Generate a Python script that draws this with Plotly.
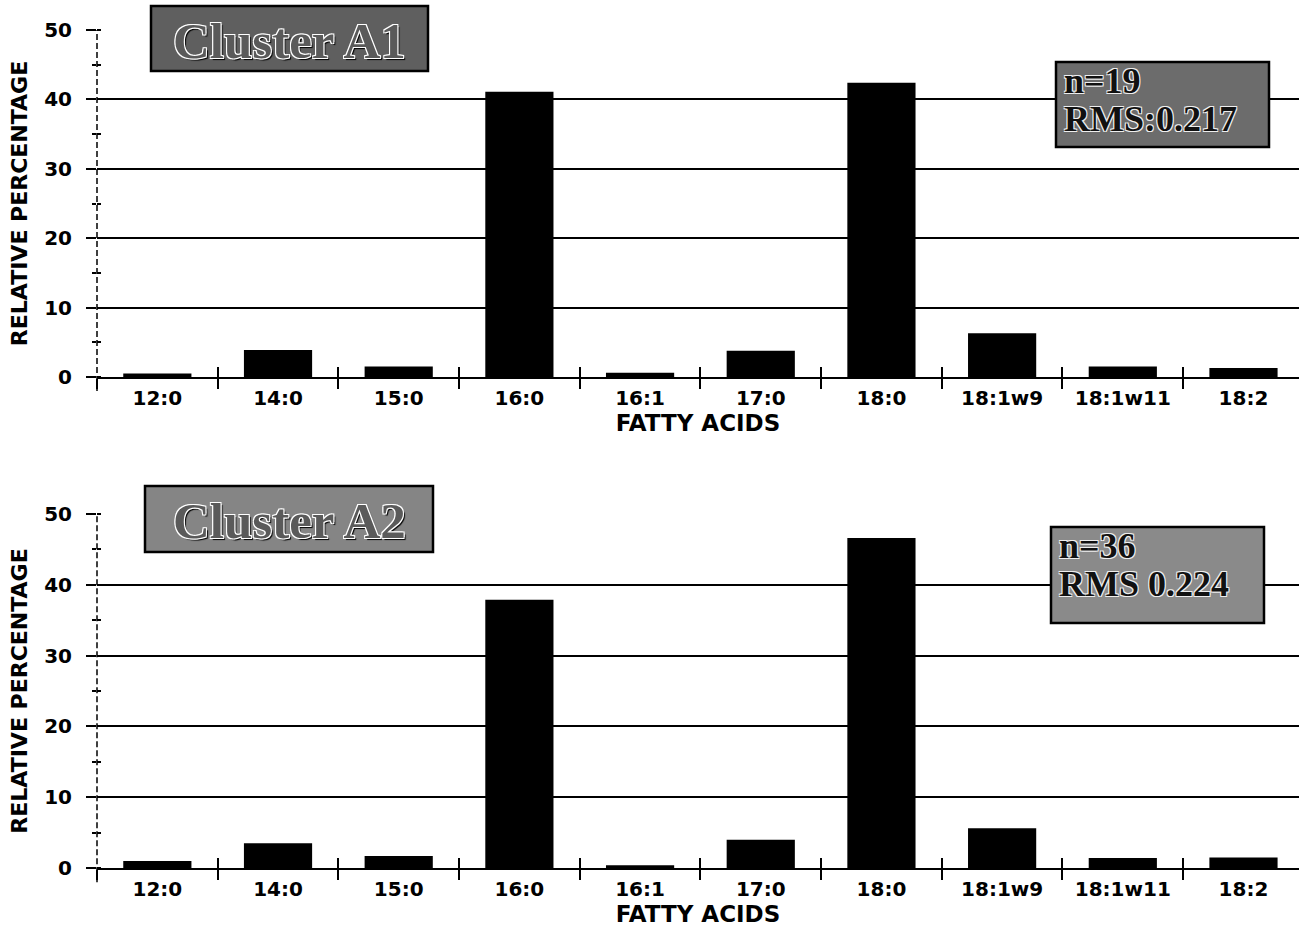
import plotly.graph_objects as go

# ---- data -------------------------------------------------------------
acids = ["12:0", "14:0", "15:0", "16:0", "16:1", "17:0", "18:0", "18:1w9", "18:1w11", "18:2"]
cluster_a1 = [0.5, 3.9, 1.5, 41.1, 0.6, 3.8, 42.4, 6.3, 1.5, 1.3]
cluster_a2 = [1.0, 3.5, 1.7, 37.9, 0.4, 4.0, 46.6, 5.6, 1.4, 1.5]
panel_titles = ["Cluster A1", "Cluster A2"]
panel_n = ["n=19", "n=36"]
panel_rms = ["RMS:0.217", "RMS 0.224"]
y_ticks = [0, 10, 20, 30, 40, 50]

# ---- page geometry ----------------------------------------------------
W, H = 1299, 935
L, R, T, B = 97, 0, 30, 67
PW, PH = W - L - R, H - T - B


def fx(px):
    return (px - L) / PW


def fy(py):
    return (H - B - py) / PH


domains = [[fy(377), fy(30)], [0, fy(514)]]

tick_font = dict(family="DejaVu Sans", size=20, color="black", weight="bold")
xtitle_font = dict(family="DejaVu Sans", size=23, color="black", weight="bold")
ytitle_font = dict(family="DejaVu Sans", size=22, color="black", weight="bold")

fig = go.Figure()

series = [cluster_a1, cluster_a2]
for i, vals in enumerate(series):
    xa = "x" if i == 0 else "x2"
    ya = "y" if i == 0 else "y2"
    fig.add_trace(go.Bar(
        x=acids, y=vals, xaxis=xa, yaxis=ya,
        marker=dict(color="black", line=dict(width=0)),
        width=0.565, showlegend=False,
    ))
    # empty companion trace carrying the overlay axes (inner tick halves)
    fig.add_trace(go.Scatter(
        x=acids, y=[None] * len(acids),
        xaxis="x%d" % (i + 3), yaxis="y%d" % (i + 3),
        mode="markers", showlegend=False, hoverinfo="skip",
    ))

layout = dict(
    width=W, height=H,
    margin=dict(l=L, r=R, t=T, b=B),
    paper_bgcolor="white", plot_bgcolor="white",
    bargap=0.435,
)

for i in range(2):
    n = "" if i == 0 else "2"
    ov = str(i + 3)
    xname, yname = "x" + n, "y" + n
    layout["xaxis" + n] = dict(
        domain=[0, 1], anchor=yname, type="category",
        range=[-0.5, 9.46], tickson="boundaries",
        ticks="outside", ticklen=10, tickwidth=1.5, tickcolor="black",
        showline=True, linecolor="black", linewidth=2,
        showgrid=False, zeroline=False,
        tickfont=tick_font, ticklabelstandoff=2,
        title=dict(text="FATTY ACIDS", font=xtitle_font, standoff=2),
    )
    layout["yaxis" + n] = dict(
        domain=domains[i], anchor=xname,
        range=[0, 50], tickvals=y_ticks,
        ticks="outside", ticklen=10, tickwidth=1.5, tickcolor="black",
        minor=dict(tick0=0, dtick=5, ticks="outside", ticklen=4,
                   tickwidth=1.5, tickcolor="black", showgrid=False),
        showgrid=True, gridcolor="black", gridwidth=1.5,
        showline=False, zeroline=False,
        tickfont=tick_font, ticklabelstandoff=10,
        title=dict(text="RELATIVE PERCENTAGE", font=ytitle_font, standoff=10),
    )
    layout["xaxis" + ov] = dict(
        overlaying=xname, matches=xname, anchor=yname, type="category",
        tickson="boundaries", ticks="inside", ticklen=10, tickwidth=1.5,
        tickcolor="black", showticklabels=False, showgrid=False,
        zeroline=False, showline=False,
    )
    layout["yaxis" + ov] = dict(
        overlaying=yname, matches=yname, anchor=xname,
        tickvals=y_ticks, ticks="", showticklabels=False,
        minor=dict(tick0=0, dtick=5, ticks="inside", ticklen=4,
                   tickwidth=1.5, tickcolor="black", showgrid=False),
        showgrid=False, zeroline=False, showline=False,
    )

fig.update_layout(**layout)

# dashed vertical axis line of each panel
for i in range(2):
    n = "" if i == 0 else "2"
    fig.add_shape(type="line", xref="x%s domain" % n, yref="y%s domain" % n,
                  x0=0, x1=0, y0=-0.04, y1=1,
                  line=dict(color="black", width=1.5, dash="6px,3px"))

# title plates and statistics plates
title_boxes = [(151, 6, 428, 71, "#5f5f5f"), (145, 486, 433, 552, "#858585")]
stat_boxes = [(1056, 62, 1269, 147, "#6c6c6c"), (1051, 527, 1264, 623, "#8a8a8a")]
outline = "-1px -1px 0 #fff, 1px -1px 0 #fff, -1px 1px 0 #fff, 1px 1px 0 #fff, 2px 2px 1px #000"
halo = "-1px -1px 0 #eee, 1px -1px 0 #eee, -1px 1px 0 #eee, 1px 1px 0 #eee"

for i in range(2):
    x0, y0, x1, y1, col = title_boxes[i]
    fig.add_shape(type="rect", xref="paper", yref="paper",
                  x0=fx(x0), x1=fx(x1), y0=fy(y1), y1=fy(y0),
                  fillcolor=col, line=dict(color="black", width=2.5), layer="above")
    fig.add_annotation(xref="paper", yref="paper",
                       x=fx((x0 + x1) / 2), y=fy((y0 + y1) / 2 + 2),
                       xanchor="center", yanchor="middle", showarrow=False,
                       text=panel_titles[i],
                       font=dict(family="Liberation Serif", size=51, weight="bold",
                                 color="#5a5a5a", shadow=outline))

    sx0, sy0, sx1, sy1, scol = stat_boxes[i]
    fig.add_shape(type="rect", xref="paper", yref="paper",
                  x0=fx(sx0), x1=fx(sx1), y0=fy(sy1), y1=fy(sy0),
                  fillcolor=scol, line=dict(color="black", width=2.5), layer="above")
    fig.add_annotation(xref="paper", yref="paper",
                       x=fx(sx0 + 6), y=fy(sy0 + 19),
                       xanchor="left", yanchor="middle", showarrow=False,
                       text=panel_n[i],
                       font=dict(family="Liberation Serif", size=36, weight="bold",
                                 color="#111", shadow=halo))
    fig.add_annotation(xref="paper", yref="paper",
                       x=fx(sx0 + 6), y=fy(sy0 + 57),
                       xanchor="left", yanchor="middle", showarrow=False,
                       text=panel_rms[i],
                       font=dict(family="Liberation Serif", size=36, weight="bold",
                                 color="#111", shadow=halo))

fig.write_html("out.html")
